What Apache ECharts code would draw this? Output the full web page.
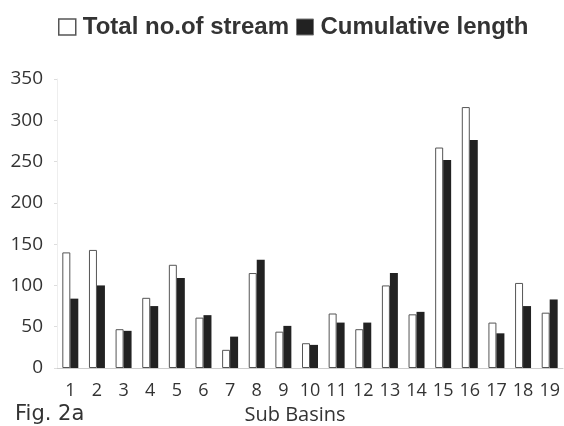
<!DOCTYPE html>
<html>
<head>
<meta charset="utf-8">
<script src="https://cdn.jsdelivr.net/npm/echarts@6/dist/echarts.min.js"></script>
<style>
  html, body { margin: 0; padding: 0; background: #fff; }
  #chart { width: 564px; height: 426px; }
</style>
</head>
<body>
<div id="chart"></div>
<script>
// Sub-basin numbers along the x axis
const subBasins = ['1','2','3','4','5','6','7','8','9','10','11','12','13','14','15','16','17','18','19'];
// Total number of streams per sub-basin
const totalStreams = [140, 143, 47, 85, 125, 61, 22, 115, 44, 30, 66, 47, 100, 65, 267, 316, 55, 103, 67];
// Cumulative stream length per sub-basin
const cumulativeLength = [84, 100, 45, 75, 109, 64, 38, 131, 51, 28, 55, 55, 115, 68, 252, 276, 42, 75, 83];
// Y-axis scale
const yMax = 350;
const yStep = 50;

const chart = echarts.init(document.getElementById('chart'), null, { renderer: 'canvas' });

const labelFont = "'Open Sans', 'DejaVu Sans', sans-serif";

chart.setOption({
  animation: false,
  backgroundColor: '#ffffff',
  legend: {
    top: 10,
    left: 53,
    itemGap: 7,
    itemWidth: 17,
    itemHeight: 16,
    textStyle: {
      fontFamily: "'Liberation Sans', Arial, sans-serif",
      fontWeight: 'bold',
      fontSize: 24,
      color: '#333',
      padding: [0, 0, 0, 2]
    },
    data: [
      { name: 'Total no.of stream', icon: 'rect', itemStyle: { color: '#fff', borderColor: '#555', borderWidth: 1.5 } },
      { name: 'Cumulative length', icon: 'rect', itemStyle: { color: '#222', borderColor: '#777', borderWidth: 1 } }
    ]
  },
  grid: {
    left: 57,
    right: 1,
    top: 79,
    bottom: 58,
    containLabel: false,
    outerBoundsMode: 'none'
  },
  xAxis: {
    type: 'category',
    data: subBasins,
    name: 'Sub Basins',
    nameLocation: 'middle',
    nameGap: 36,
    nameTextStyle: { fontFamily: labelFont, fontSize: 20, color: '#333', padding: [0, 30, 0, 0] },
    axisLine: { show: true, lineStyle: { color: '#ccc', width: 1 } },
    axisTick: { show: false },
    axisLabel: { fontFamily: labelFont, fontSize: 18, color: '#333', margin: 14, interval: 0 }
  },
  yAxis: {
    type: 'value',
    min: 0,
    max: yMax,
    interval: yStep,
    axisLine: { show: true, lineStyle: { color: '#eee', width: 1 } },
    axisTick: { show: true, length: 3, lineStyle: { color: '#ddd' } },
    splitLine: { show: false },
    axisLabel: { fontFamily: labelFont, fontSize: 19, color: '#333', margin: 14 }
  },
  series: [
    {
      name: 'Total no.of stream',
      type: 'bar',
      data: totalStreams,
      barGap: '0%',
      barCategoryGap: '40%',
      itemStyle: { color: '#ffffff', borderColor: '#555', borderWidth: 1 }
    },
    {
      name: 'Cumulative length',
      type: 'bar',
      data: cumulativeLength,
      itemStyle: { color: '#222222' }
    }
  ],
  graphic: [
    {
      type: 'text',
      left: 15,
      top: 404,
      style: {
        text: 'Fig. 2a',
        fontFamily: "'DejaVu Sans', sans-serif",
        fontSize: 21,
        fill: '#333'
      }
    }
  ]
});
</script>
</body>
</html>
